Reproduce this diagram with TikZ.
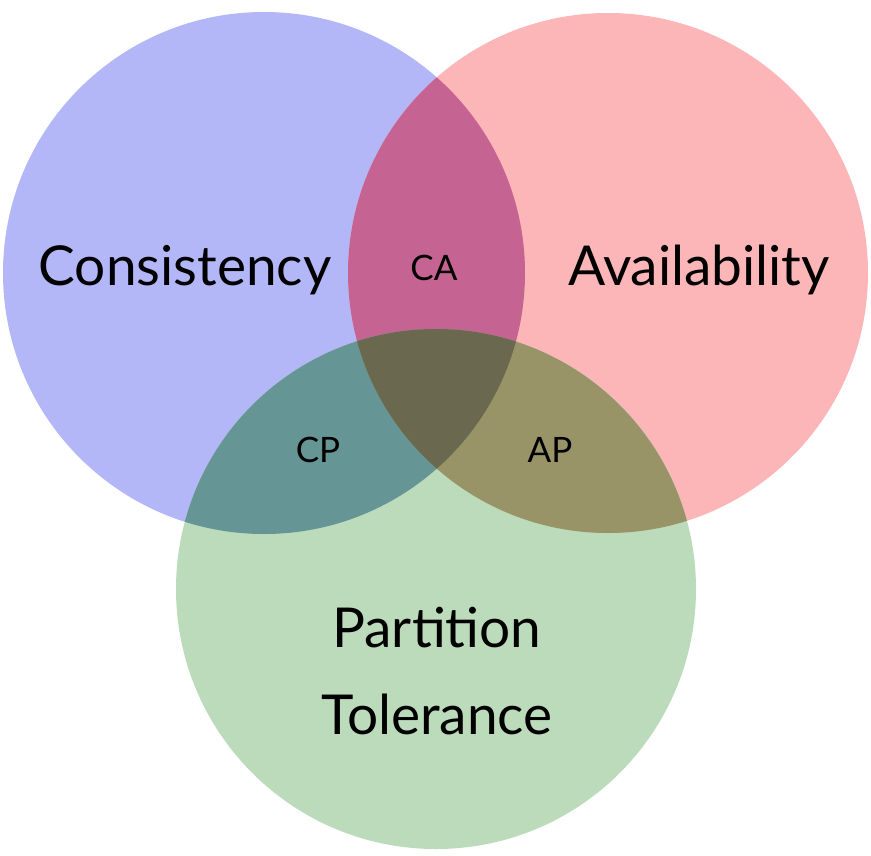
\documentclass[tikz,border=0pt]{standalone}
\usepackage{fontspec}
\setmainfont{Lato}
\definecolor{cblue}{RGB}{179,182,247}
\definecolor{cred}{RGB}{253,182,183}
\definecolor{cgreen}{RGB}{187,219,187}
\definecolor{colCA}{RGB}{197,100,146}
\definecolor{colCP}{RGB}{101,150,149}
\definecolor{colAP}{RGB}{152,148,104}
\definecolor{colMid}{RGB}{107,104,80}
\begin{document}
\begin{tikzpicture}[x=1pt,y=-1pt,
  big/.style={font=\fontsize{55}{60}\selectfont, text=black, inner sep=0pt},
  small/.style={font=\fontsize{35}{40}\selectfont, text=black, inner sep=0pt}]
\useasboundingbox (0,0) rectangle (871,855);
\def\rB{261}\def\rR{260}\def\rG{260}
\coordinate (cB) at (264,273);
\coordinate (cR) at (608,273);
\coordinate (cG) at (436,589);
\fill[cblue] (cB) circle (\rB);
\fill[cred] (cR) circle (\rR);
\fill[cgreen] (cG) circle (\rG);
\begin{scope}
  \clip (cB) circle (\rB);
  \fill[colCA] (cR) circle (\rR);
  \fill[colCP] (cG) circle (\rG);
\end{scope}
\begin{scope}
  \clip (cR) circle (\rR);
  \fill[colAP] (cG) circle (\rG);
  \clip (cB) circle (\rB);
  \fill[colMid] (cG) circle (\rG);
\end{scope}
\node[big] (cons) at (185,270) {Consistency};
\node[big] (avail) at (699,270) {Availability};
\node[big] (part) at (437,628) {Partition};
\node[big] (tol) at (437,714) {Tolerance};
\node[small] (ca) at (434,268) {CA};
\node[small] (cp) at (318,450) {CP};
\node[small] (apn) at (550,450) {AP};
\end{tikzpicture}
\end{document}
